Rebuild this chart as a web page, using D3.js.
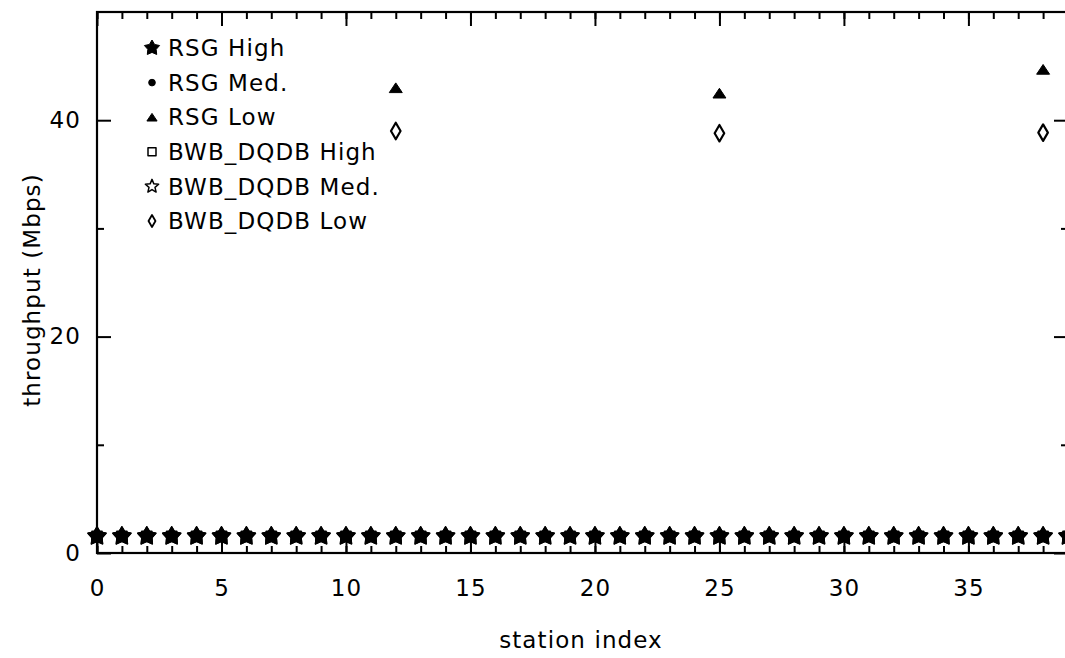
<!DOCTYPE html>
<html>
<head>
<meta charset="utf-8">
<script src="https://cdn.jsdelivr.net/npm/d3@7"></script>
<style>
  html, body { margin: 0; padding: 0; background: #fff; }
  svg { display: block; }
  text { font-family: "DejaVu Sans", sans-serif; font-size: 23px; letter-spacing: 1.1px; fill: #000; }
</style>
</head>
<body>
<svg id="chart" width="1065" height="658"></svg>
<script>
// Station indices on the bus
const stations = [0,1,2,3,4,5,6,7,8,9,10,11,12,13,14,15,16,17,18,19,
                  20,21,22,23,24,25,26,27,28,29,30,31,32,33,34,35,36,37,38,39];

// Per-station throughput (Mbps)
const rsgMed  = [1.55,1.55,1.55,1.55,1.55,1.55,1.55,1.55,1.55,1.55,1.55,1.55,1.55,1.55,1.55,1.55,1.55,1.55,1.55,1.55,
                 1.55,1.55,1.55,1.55,1.55,1.55,1.55,1.55,1.55,1.55,1.55,1.55,1.55,1.55,1.55,1.55,1.55,1.55,1.55,1.55];
const bwbHigh = [1.55,1.55,1.55,1.55,1.55,1.55,1.55,1.55,1.55,1.55,1.55,1.55,1.55,1.55,1.55,1.55,1.55,1.55,1.55,1.55,
                 1.55,1.55,1.55,1.55,1.55,1.55,1.55,1.55,1.55,1.55,1.55,1.55,1.55,1.55,1.55,1.55,1.55,1.55,1.55,1.55];
const rsgHigh = [1.55,1.55,1.55,1.55,1.55,1.55,1.55,1.55,1.55,1.55,1.55,1.55,1.55,1.55,1.55,1.55,1.55,1.55,1.55,1.55,
                 1.55,1.55,1.55,1.55,1.55,1.55,1.55,1.55,1.55,1.55,1.55,1.55,1.55,1.55,1.55,1.55,1.55,1.55,1.55,1.55];
const bwbMed  = [1.55,1.55,1.55,1.55,1.55,1.55,1.55,1.55,1.55,1.55,1.55,1.55,1.55,1.55,1.55,1.55,1.55,1.55,1.55,1.55,
                 1.55,1.55,1.55,1.55,1.55,1.55,1.55,1.55,1.55,1.55,1.55,1.55,1.55,1.55,1.55,1.55,1.55,1.55,1.55,1.55];

// Low-priority stations
const lowStations = [12, 25, 38];
const rsgLow = [43.0, 42.5, 44.7];
const bwbLow = [39.0, 38.8, 38.85];

// Axis ticks
const xMajorTicks = [0, 5, 10, 15, 20, 25, 30, 35];
const yMajorTicks = [0, 20, 40];
const yMinorTicks = [10, 30];

const legendLabels = ["RSG High", "RSG Med.", "RSG Low", "BWB_DQDB High", "BWB_DQDB Med.", "BWB_DQDB Low"];

// ---- symbol shapes (size is the outer radius squared) ----
function starType(inner) {
  return {
    draw(ctx, size) {
      const r = Math.sqrt(size), ri = r * inner;
      for (let i = 0; i < 10; i++) {
        const a = -Math.PI / 2 + i * Math.PI / 5;
        const rr = i % 2 ? ri : r;
        const px = rr * Math.cos(a), py = rr * Math.sin(a);
        i ? ctx.lineTo(px, py) : ctx.moveTo(px, py);
      }
      ctx.closePath();
    }
  };
}
const fatStar = starType(0.55);
const triType = {
  draw(ctx, size) {
    const r = Math.sqrt(size);
    ctx.moveTo(0, -0.75 * r); ctx.lineTo(r, 0.75 * r); ctx.lineTo(-r, 0.75 * r); ctx.closePath();
  }
};
const diamondType = {
  draw(ctx, size) {
    const r = Math.sqrt(size);
    ctx.moveTo(0, -r); ctx.lineTo(0.58 * r, 0); ctx.lineTo(0, r); ctx.lineTo(-0.58 * r, 0); ctx.closePath();
  }
};
const squareType = {
  draw(ctx, size) { const r = Math.sqrt(size); ctx.rect(-r, -r, 2 * r, 2 * r); }
};
const circleType = {
  draw(ctx, size) { const r = Math.sqrt(size); ctx.moveTo(r, 0); ctx.arc(0, 0, r, 0, 2 * Math.PI); }
};

const svg = d3.select("#chart");
const plotLeft = 97, plotRight = 1068, plotTop = 12, plotBottom = 553;

const x = d3.scaleLinear().domain([0, 39]).range([plotLeft, plotRight]);
const y = d3.scaleLinear().domain([0, 50]).range([plotBottom, plotTop]);

// ---- ticks on all four sides, pointing inward ----
function tickAxis(axisFn, scale, vals, size, transform, labels, padding) {
  const g = svg.append("g").attr("transform", transform)
    .call(axisFn(scale).tickValues(vals).tickSize(size).tickPadding(padding || 0)
      .tickFormat(labels ? d3.format("d") : ""));
  g.select(".domain").remove();
  g.selectAll("line").attr("stroke", "#000").attr("stroke-width", 2);
  g.selectAll("text").attr("font-family", null).attr("font-size", null).attr("fill", "#000");
  return g;
}

// bottom
tickAxis(d3.axisBottom, x, stations, -7, `translate(0,${plotBottom})`, false);
tickAxis(d3.axisBottom, x, xMajorTicks, -14, `translate(0,${plotBottom})`, true, 27);
// top
tickAxis(d3.axisTop, x, stations, -7, `translate(0,${plotTop})`, false);
tickAxis(d3.axisTop, x, xMajorTicks, -14, `translate(0,${plotTop})`, false);
// left
tickAxis(d3.axisLeft, y, yMinorTicks, -7, `translate(${plotLeft},0)`, false);
tickAxis(d3.axisLeft, y, yMajorTicks, -14, `translate(${plotLeft},0)`, true, 16);
// right
tickAxis(d3.axisRight, y, yMinorTicks, -7, `translate(${plotRight},0)`, false);
tickAxis(d3.axisRight, y, yMajorTicks, -14, `translate(${plotRight},0)`, false);

svg.append("rect")
  .attr("x", plotLeft).attr("y", plotTop)
  .attr("width", plotRight - plotLeft).attr("height", plotBottom - plotTop)
  .attr("fill", "none").attr("stroke", "#000").attr("stroke-width", 2.2);

// ---- axis titles ----
svg.append("text")
  .attr("x", 581).attr("y", 648)
  .attr("text-anchor", "middle")
  .text("station index");

svg.append("text")
  .attr("transform", "translate(40,290) rotate(-90)")
  .attr("text-anchor", "middle")
  .text("throughput (Mbps)");

// ---- data marks ----
const marks = svg.append("g");
function plot(xs, ys, type, size, filled, sw) {
  marks.append("g").selectAll("path")
    .data(xs.map((s, i) => [s, ys[i]]))
    .join("path")
    .attr("transform", d => `translate(${x(d[0])},${y(d[1])})`)
    .attr("d", d3.symbol().type(type).size(size))
    .attr("fill", filled ? "#000" : "none")
    .attr("stroke", "#000")
    .attr("stroke-width", sw)
    .attr("stroke-linejoin", "round");
}
plot(stations, rsgMed, circleType, 16, true, 1);
plot(stations, bwbHigh, squareType, 25, false, 1.6);
plot(stations, rsgHigh, fatStar, 90, true, 1.4);
plot(stations, bwbMed, fatStar, 90, false, 1.4);
plot(lowStations, rsgLow, triType, 42, true, 1);
plot(lowStations, bwbLow, diamondType, 68, false, 2.2);

// ---- legend ----
const legendTypes = [
  { type: fatStar, size: 64, filled: true, sw: 1 },
  { type: circleType, size: 11, filled: true, sw: 1 },
  { type: triType, size: 26, filled: true, sw: 1 },
  { type: squareType, size: 16, filled: false, sw: 1.5 },
  { type: starType(0.45), size: 49, filled: false, sw: 1.5 },
  { type: diamondType, size: 36, filled: false, sw: 1.8 }
];
const legend = svg.append("g");
legendLabels.forEach((lab, i) => {
  const cy = 48 + i * 34.6;
  const t = legendTypes[i];
  legend.append("path")
    .attr("transform", `translate(152,${cy})`)
    .attr("d", d3.symbol().type(t.type).size(t.size))
    .attr("fill", t.filled ? "#000" : "none")
    .attr("stroke", "#000")
    .attr("stroke-width", t.sw)
    .attr("stroke-linejoin", "round");
  legend.append("text")
    .attr("x", 168).attr("y", cy + 8.2)
    .text(lab);
});
</script>
</body>
</html>
